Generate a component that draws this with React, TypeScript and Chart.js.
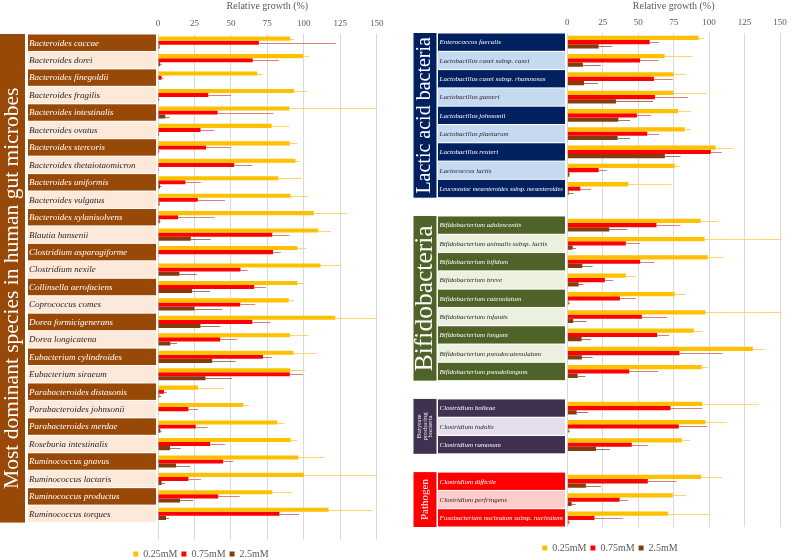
import React, { useEffect, useRef } from "react";
import { Chart, registerables } from "chart.js";
Chart.register(...registerables);

const FONT = "'Liberation Serif', 'Times New Roman', serif";

// ---------- Left panel data ----------
const leftSpecies = [
  "Bacteroides caccae", "Bacteroides dorei", "Bacteroides finegoldii", "Bacteroides fragilis",
  "Bacteroides intestinalis", "Bacteroides ovatus", "Bacteroides stercoris", "Bacteroides thetaiotaomicron",
  "Bacteroides uniformis", "Bacteroides vulgatus", "Bacteroides xylanisolvens", "Blautia hansenii",
  "Clostridium asparagiforme", "Clostridium nexile", "Collinsella aerofaciens", "Coprococcus comes",
  "Dorea formicigenerans", "Dorea longicatena", "Eubacterium cylindroides", "Eubacterium siraeum",
  "Parabacteroides distasonis", "Parabacteroides johnsonii", "Parabacteroides merdae", "Roseburia intestinalis",
  "Ruminococcus gnavus", "Ruminococcus lactaris", "Ruminococcus productus", "Ruminococcus torques",
];
const left025 = [90.6, 99.5, 68, 93.4, 90, 78, 90.4, 94.3, 82.6, 91, 106.9, 110, 95.6, 111.5, 95.6, 89.7, 121.6, 90.4, 92.9, 90.8, 27.5, 58.5, 81.9, 91, 96.3, 100.2, 78.4, 117];
const left025Err = [2.8, 4.2, 3.9, 8.6, 59.5, 12.2, 5.2, 2.9, 15.8, 11.5, 22.1, 8.6, 6, 14, 4.9, 3.6, 28.4, 12.8, 15.4, 10.1, 17.2, 4.3, 4.3, 4.4, 17.7, 49.8, 14, 30];
const left075 = [69.2, 65, 2.5, 34.5, 40.9, 29.2, 33, 52.3, 18.8, 27.3, 13.8, 78.4, 78.9, 56.6, 66, 56.4, 64.7, 42.7, 72, 90.4, 4.1, 20.9, 25.9, 35.8, 44.7, 20.9, 41.3, 83.3];
const left075Err = [52.7, 17.9, 1.4, 15.5, 38.3, 9.2, 17, 12.4, 10.6, 18.6, 25, 11.5, 5.3, 4.9, 8, 10.3, 12.3, 11.7, 6.4, 9.1, 2.1, 6.6, 8, 10.1, 6.9, 8.5, 14.7, 13.5];
const left250 = [1, 1.5, 0, 0.7, 5, 0.7, 0.7, 0.5, 1.4, 1, 1.2, 22.5, 0.3, 14.7, 23.4, 25, 29.1, 8.5, 37.2, 32.6, 0.9, 0.3, 1.6, 8.3, 12.4, 2.5, 15.1, 5.5];
const left250Err = [0.5, 1, 0, 0.3, 3, 0.3, 0.3, 0.3, 1, 0.4, 0.5, 13.7, 0.2, 11.9, 12.2, 19, 13.6, 4.5, 16, 18.1, 1.4, 0.2, 0.9, 7.3, 9.6, 2.3, 9, 2.1];

// ---------- Right panel data ('' / null = spacer rows between groups) ----------
const rightSpecies = [
  "Enterococcus faecalis", "Lactobacillus casei subsp. casei", "Lactobacillus casei subsp. rhamnosus",
  "Lactobacillus gasseri", "Lactobacillus johnsonii", "Lactobacillus plantarum", "Lactobacillus reuteri",
  "Lactococcus lactis", "Leuconostoc mesenteroides subsp. mesenteroides", "",
  "Bifidobacterium adolescentis", "Bifidobacterium animalis subsp. lactis", "Bifidobacterium bifidum",
  "Bifidobacterium breve", "Bifidobacterium catenulatum", "Bifidobacterium infantis", "Bifidobacterium longum",
  "Bifidobacterium pseudocatenulatum", "Bifidobacterium pseudolongum", "",
  "Clostridium bolteae", "Clostridium indolis", "Clostridium ramosum", "",
  "Clostridium difficile", "Clostridium perfringens", "Fusobacterium nucleatum subsp. nucleatum",
];
const right025 = [92.6, 68.7, 74.8, 74.8, 78.1, 82.8, 104.7, 75.8, 43, null, 94.1, 96.9, 99.1, 41.3, 75.8, 97.4, 89.2, 130.8, 94.8, null, 95.1, 97.4, 80.8, null, 94.4, 74.4, 70.9];
const right025Err = [4, 19.7, 8.7, 23.5, 9.1, 4.4, 12.2, 3.3, 30.5, null, 12.5, 53.1, 10.8, 6.8, 7.5, 52.6, 6.1, 8.6, 4.5, null, 40.1, 15.3, 5.6, null, 14.5, 9.2, 29.6];
const right075 = [58.1, 51.3, 61.1, 61.8, 49.1, 56.4, 101.2, 22.1, 9.2, null, 62.9, 41.3, 51.4, 26.5, 37.1, 52.6, 63.4, 79.1, 43.7, null, 72.8, 78.6, 45.5, null, 56.8, 36.9, 19.2];
const right075Err = [6.6, 13.1, 13.2, 23.3, 9.7, 8.3, 7.7, 5.8, 7.5, null, 16.9, 9.9, 9.9, 5.9, 11.3, 17.6, 8.4, 30.3, 20.4, null, 22.5, 20, 11.5, null, 20.2, 5.8, 19.8];
const right250 = [22.1, 11, 11.8, 34.3, 36, 35.5, 68.8, 1.4, 1, null, 29.6, 3.8, 10.6, 8, 0.9, 4.2, 10.1, 10.3, 7.3, null, 6.6, 0.9, 20.2, null, 13.1, 3.1, 0.9];
const right250Err = [9.6, 12.7, 9.8, 26.1, 8.2, 8.7, 11, 0.5, 3.2, null, 12.7, 2.3, 7.2, 3.3, 1, 9.4, 6.6, 7.5, 5.4, null, 8, 1, 9.8, null, 10.6, 2.8, 1];

const seriesLabels = ["0.25mM", "0.75mM", "2.5mM"];
const ticksX = [0, 25, 50, 75, 100, 125, 150];

// ---------- styles ----------
const barColors = ["#FFC000", "#FF0000", "#843C0C"];
const errColors = ["rgba(255,205,80,0.85)", "rgba(205,85,85,0.75)", "rgba(120,80,60,0.75)"];

const leftGroups = [
  { name: ["Most dominant species in human gut microbes"], start: 0, count: 28, dark: "#984807", light: "#FDE9D9", size: 21.5, lh: 21, color: "#FFFFFF", shift: 10 },
];
const rightGroups = [
  { name: ["Lactic acid bacteria"], start: 0, count: 9, dark: "#002060", light: "#C5D9F1", size: 20, lh: 20, color: "#FFFFFF", shift: 0 },
  { name: ["Bifidobacteria"], start: 10, count: 9, dark: "#4F6228", light: "#EBF1DE", size: 25.5, lh: 25, color: "#FFFFFF", shift: 0 },
  { name: ["Butyrate", "producing", "bacteria"], start: 20, count: 3, dark: "#403151", light: "#E4DFEC", size: 7, lh: 5.5, color: "#EDEDED", shift: 0 },
  { name: ["Pathogen"], start: 24, count: 3, dark: "#FF0000", light: "#FFCCCC", size: 11, lh: 11, color: "#FFFFFF", shift: 0 },
];

function drawSpecies(ctx, text, x, cy, size, maxW, color) {
  if (!text) return;
  let s = size;
  ctx.font = `italic ${s}px ${FONT}`;
  const w = ctx.measureText(text).width;
  if (w > maxW) {
    s = (size * maxW) / w;
    ctx.font = `italic ${s}px ${FONT}`;
  }
  ctx.fillStyle = color;
  ctx.textAlign = "left";
  ctx.textBaseline = "middle";
  ctx.fillText(text, x, cy);
}

function makeLabelPlugin(species, groups, geom) {
  return {
    id: "labelBoxes",
    afterDraw(chart) {
      const ctx = chart.ctx;
      const ys = chart.scales.y;
      const area = chart.chartArea;
      const rowH = area.height / chart.data.labels.length;
      ctx.save();
      groups.forEach((g) => {
        const top = ys.getPixelForValue(g.start) - rowH / 2;
        const bot = ys.getPixelForValue(g.start + g.count - 1) + rowH / 2;
        ctx.fillStyle = g.dark;
        ctx.fillRect(geom.bandX, top, geom.bandW, bot - top);
        ctx.save();
        ctx.translate(geom.bandX + geom.bandW / 2, (top + bot) / 2 + g.shift);
        ctx.rotate(-Math.PI / 2);
        ctx.fillStyle = g.color;
        ctx.font = `${g.size}px ${FONT}`;
        ctx.textAlign = "center";
        ctx.textBaseline = "middle";
        g.name.forEach((ln, k) => ctx.fillText(ln, 0, (k - (g.name.length - 1) / 2) * g.lh));
        ctx.restore();
        for (let i = 0; i < g.count; i++) {
          const idx = g.start + i;
          const cy = ys.getPixelForValue(idx);
          const dark = i % 2 === 0;
          ctx.fillStyle = dark ? g.dark : g.light;
          ctx.fillRect(geom.boxX, cy - rowH / 2 + 0.5, geom.boxW, rowH - 1);
          drawSpecies(ctx, species[idx], geom.boxX + geom.textPad, cy + 0.5, geom.fontSize, geom.boxW - geom.textPad - 2, dark ? "#FFFFFF" : "#262626");
        }
      });
      ctx.restore();
    },
  };
}

function makeErrPlugin(errs) {
  return {
    id: "errBars",
    afterDatasetsDraw(chart) {
      const ctx = chart.ctx;
      const xs = chart.scales.x;
      ctx.save();
      ctx.lineWidth = 1;
      chart.data.datasets.forEach((ds, di) => {
        const meta = chart.getDatasetMeta(di);
        meta.data.forEach((bar, i) => {
          const v = ds.data[i];
          const e = errs[di][i];
          if (v == null || !e) return;
          const x1 = xs.getPixelForValue(v + e);
          const yy = Math.round(bar.y) + 0.5;
          ctx.strokeStyle = errColors[di];
          ctx.beginPath();
          ctx.moveTo(bar.x, yy);
          ctx.lineTo(x1, yy);
          ctx.stroke();
        });
      });
      ctx.restore();
    },
  };
}

function buildConfig(labels, series, errs, species, groups, geom, lay) {
  return {
    type: "bar",
    data: {
      labels,
      datasets: series.map((d, i) => ({
        label: seriesLabels[i],
        data: d,
        backgroundColor: barColors[i],
        borderWidth: 0,
        categoryPercentage: 0.7,
        barPercentage: 1,
      })),
    },
    options: {
      indexAxis: "y",
      animation: false,
      responsive: false,
      devicePixelRatio: 1,
      layout: { padding: { left: lay.padL, right: lay.padR, top: 0, bottom: lay.padB } },
      scales: {
        x: {
          position: "top",
          min: 0,
          max: 150,
          afterBuildTicks: (s) => { s.ticks = ticksX.map((v) => ({ value: v })); },
          ticks: { font: { family: FONT, size: 9 }, color: "#595959", padding: 5, maxRotation: 0 },
          grid: { color: "#D9D9D9", drawTicks: false, lineWidth: 1 },
          border: { display: false },
          title: { display: true, text: "Relative growth (%)", font: { family: FONT, size: 10 }, color: "#595959", padding: { top: 0, bottom: 0 } },
          afterFit: (s) => { s.height = lay.axisH; },
        },
        y: {
          display: true,
          grid: { display: false },
          border: { display: false },
          ticks: { display: false },
          afterFit: (s) => { s.width = lay.yW; },
        },
      },
      plugins: {
        legend: {
          position: "bottom",
          labels: { boxWidth: 5, boxHeight: 5, padding: 4, font: { family: FONT, size: 10 }, color: "#595959" },
          title: { display: true, text: "", padding: { top: lay.legTitle, bottom: 0 }, font: { size: 1, lineHeight: 1 } },
        },
        tooltip: { enabled: false },
      },
    },
    plugins: [makeErrPlugin(errs), makeLabelPlugin(species, groups, geom)],
  };
}

export default function App() {
  const leftRef = useRef(null);
  const rightRef = useRef(null);

  useEffect(() => {
    const c1 = new Chart(
      leftRef.current,
      buildConfig(
        [...leftSpecies, ""],
        [[...left025, null], [...left075, null], [...left250, null]],
        [left025Err, left075Err, left250Err],
        leftSpecies,
        leftGroups,
        { bandX: 0, bandW: 25, boxX: 28, boxW: 128, textPad: 1, fontSize: 9 },
        { padL: 25.3, padR: 23.3, padB: 1, yW: 132.7, axisH: 34, legTitle: 4 }
      )
    );
    const c2 = new Chart(
      rightRef.current,
      buildConfig(
        rightSpecies,
        [right025, right075, right250],
        [right025Err, right075Err, right250Err],
        rightSpecies,
        rightGroups,
        { bandX: 13.5, bandW: 23, boxX: 38, boxW: 127, textPad: 1.5, fontSize: 7 },
        { padL: 40, padR: 12, padB: 7, yW: 127.3, axisH: 33, legTitle: 11 }
      )
    );
    return () => {
      c1.destroy();
      c2.destroy();
    };
  }, []);

  return (
    <div style={{ position: "fixed", left: 0, top: 0, width: 792, height: 558, overflow: "hidden", background: "#FFFFFF" }}>
      <canvas ref={leftRef} width={400} height={570} style={{ position: "absolute", left: 0, top: 0, width: 400, height: 570 }} />
      <canvas ref={rightRef} width={392} height={570} style={{ position: "absolute", left: 400, top: 0, width: 392, height: 570 }} />
    </div>
  );
}
